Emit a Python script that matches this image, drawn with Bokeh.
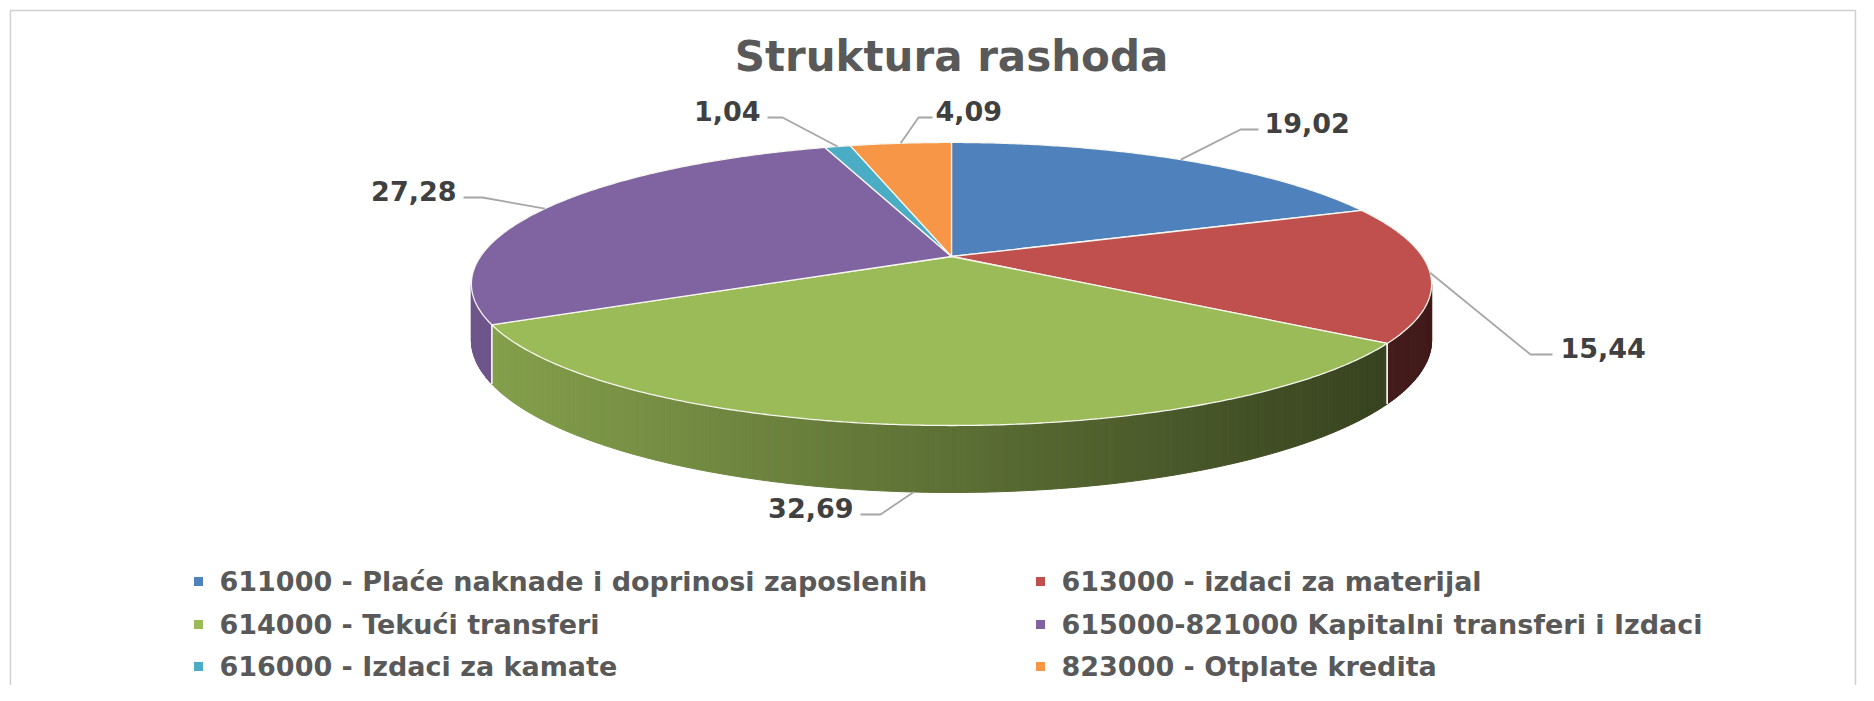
import numpy as np
from bokeh.plotting import figure
from bokeh.models import Range1d
from bokeh.core.properties import value
from bokeh.embed import file_html
from bokeh.resources import INLINE

# ---------------- data ----------------
title_text = "Struktura rashoda"
categories = [
    "611000 - Plaće naknade i doprinosi zaposlenih",
    "613000 - izdaci za materijal",
    "614000 - Tekući transferi",
    "615000-821000 Kapitalni transferi i Izdaci",
    "616000 - Izdaci za kamate",
    "823000 - Otplate kredita",
]
values = [19.02, 15.44, 32.69, 27.28, 1.04, 4.09]
value_labels = ["19,02", "15,44", "32,69", "27,28", "1,04", "4,09"]
colors = ["#4F81BD", "#C0504D", "#9BBB59", "#8064A2", "#4BACC6", "#F79646"]

# ---------------- layout (pixels of the picture) ----------------
W, H = 1858, 685
CX, CY = 951, 256          # pie centre
A, B, K = 471.0, 136.2, 0.194   # perspective ellipse parameters
DEPTH = 54.0

label_x = [1264, 1560, 853, 456, 760, 935]
label_y = [122, 347, 507, 190, 110, 110]
label_align = ["left", "left", "right", "right", "right", "left"]
elbow_x = [1240, 1530, 880, 482, 782, 918]
end_x = [1258, 1552, 860, 463, 767, 932]

legend_col_x = [198, 1040]
legend_row_y = [581, 624, 666]

FONT = value("DejaVu Sans")


def proj(theta):
    c, s = np.cos(theta), np.sin(theta)
    w = 1.0 + K * s
    return CX + A * c / w, CY - B * s / w, w


def shade(rgb_hex, f):
    r = int(rgb_hex[1:3], 16); g = int(rgb_hex[3:5], 16); b = int(rgb_hex[5:7], 16)
    f = max(0.0, min(1.0, f))
    return "#%02x%02x%02x" % (int(r * f), int(g * f), int(b * f))


p = figure(width=W, height=H, output_backend="svg", toolbar_location=None,
           x_range=Range1d(0, W), y_range=Range1d(H, 0),
           x_axis_location=None, y_axis_location=None, min_border=0,
           background_fill_color="white", border_fill_color="white")
p.grid.visible = False
p.outline_line_color = None

# chart-area frame
p.quad(left=[10], right=[W - 3], top=[10], bottom=[H + 10],
       fill_color=None, line_color="#d0d0d0", line_width=1.5)

total = float(sum(values))
cum = np.concatenate([[0.0], np.cumsum(values)]) / total
starts = np.pi / 2 - 2 * np.pi * cum[:-1]
ends = np.pi / 2 - 2 * np.pi * cum[1:]

theta_L = -np.pi + np.arcsin(K)
theta_R = -np.arcsin(K)

# ---------- side walls ----------
side_xs, side_ys, side_cols = [], [], []
edge_lines_x, edge_lines_y = [], []
for i in range(len(values)):
    for shift in (0.0, 2 * np.pi, -2 * np.pi):
        lo = max(ends[i] + shift, theta_L)
        hi = min(starts[i] + shift, theta_R)
        if hi <= lo:
            continue
        n = max(2, int((hi - lo) / np.radians(0.6)))
        th = np.linspace(lo, hi, n + 1)
        xt, yt, wt = proj(th)
        yb = yt + DEPTH / wt
        for j in range(n):
            side_xs.append([xt[j], xt[j + 1], xt[j + 1], xt[j]])
            side_ys.append([yt[j], yt[j + 1], yb[j + 1], yb[j]])
            xm = 0.5 * (xt[j] + xt[j + 1])
            f = 0.86 - 0.52 * (xm - (CX - A)) / (2 * A)
            side_cols.append(shade(colors[i], f))
        for t in (lo, hi):
            if theta_L + 1e-6 < t < theta_R - 1e-6:
                x0, y0, w0 = proj(t)
                edge_lines_x.append([x0, x0])
                edge_lines_y.append([y0, y0 + DEPTH / w0])

p.patches(side_xs, side_ys, fill_color=side_cols, line_color=side_cols, line_width=1)
if edge_lines_x:
    p.multi_line(edge_lines_x, edge_lines_y, line_color="#f4f4ea", line_width=1.5, line_alpha=0.9)

# ---------- top faces ----------
top_xs, top_ys = [], []
for i in range(len(values)):
    n = max(3, int((starts[i] - ends[i]) / np.radians(0.5)))
    th = np.linspace(starts[i], ends[i], n + 1)
    x, y, _ = proj(th)
    top_xs.append([CX] + list(x))
    top_ys.append([CY] + list(y))
p.patches(top_xs, top_ys, fill_color=colors, line_color="#f7f7ef", line_width=1.3)

# ---------- leader lines ----------
lead_x, lead_y = [], []
mids = 0.5 * (starts + ends)
for i in range(len(values)):
    x0, y0, w0 = proj(mids[i])
    if np.sin(mids[i]) < -0.9:
        y0 = y0 + DEPTH / w0
    ly = label_y[i] + 7
    lead_x.append([x0, elbow_x[i], end_x[i]])
    lead_y.append([y0, ly, ly])
p.multi_line(lead_x, lead_y, line_color="#a6a6a6", line_width=1.8)

# ---------- value labels ----------
for align in ("left", "right"):
    idx = [i for i in range(len(values)) if label_align[i] == align]
    p.text(x=[label_x[i] for i in idx], y=[label_y[i] for i in idx],
           text=[value_labels[i] for i in idx],
           text_font=FONT, text_font_style="bold", text_font_size="27px",
           text_color="#404040", text_align=align, text_baseline="middle")

# ---------- title ----------
p.text(x=[CX], y=[56], text=[title_text], text_font=FONT, text_font_style="bold",
       text_font_size="42px", text_color="#595959", text_align="center",
       text_baseline="middle")

# ---------- legend ----------
lx = [legend_col_x[i % 2] for i in range(len(categories))]
ly = [legend_row_y[i // 2] for i in range(len(categories))]
p.scatter(x=lx, y=ly, marker="square", size=9, fill_color=colors, line_color=None)
p.text(x=[v + 21 for v in lx], y=ly, text=categories, text_font=FONT,
       text_font_style="bold", text_font_size="27px", text_color="#595959",
       text_align="left", text_baseline="middle")

open("out.html", "w").write(file_html(p, INLINE))
